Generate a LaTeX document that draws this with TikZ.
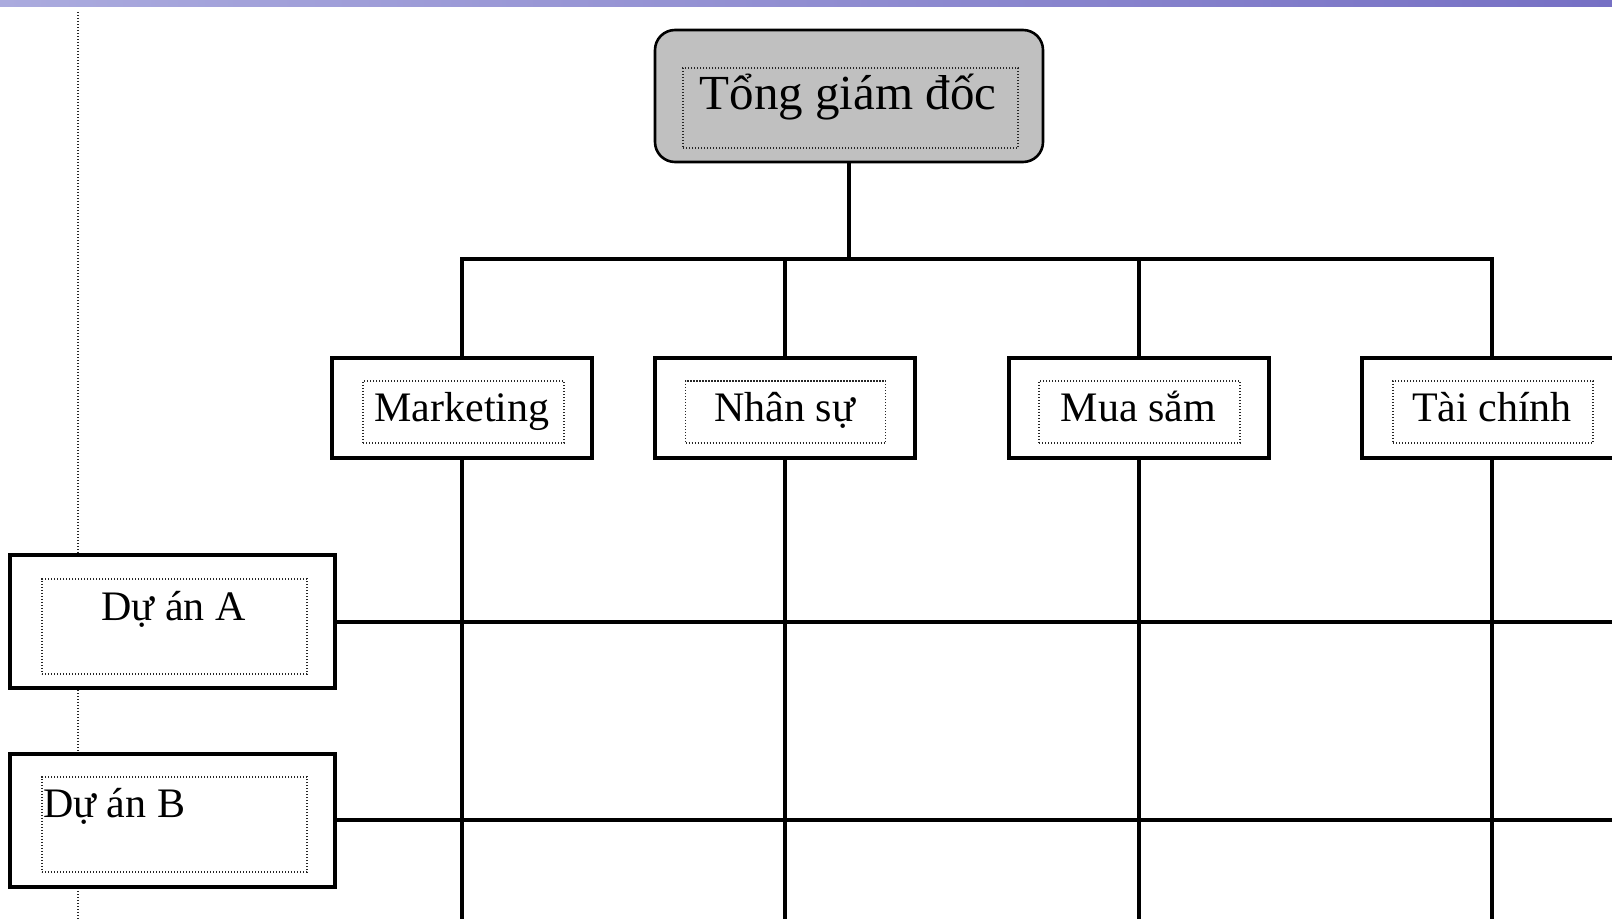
\documentclass[tikz,border=0pt]{standalone}
\usepackage{fontspec}
\setmainfont{Liberation Serif}
\definecolor{barlight}{HTML}{ABABDE}
\definecolor{bardark}{HTML}{7670C4}
\definecolor{headgray}{HTML}{C0C0C0}
\begin{document}
\begin{tikzpicture}[x=50pt,y=-50pt,
  unitbox/.style={draw,line width=2pt,fill=white,inner sep=0pt,minimum width=130pt,minimum height=50pt},
  projbox/.style={draw,line width=2pt,fill=white,inner sep=0pt,minimum width=162.5pt,minimum height=66.5pt},
  dotbox/.style={draw=black!85,line width=0.75pt,dash pattern=on 0.6pt off 0.9pt,inner sep=0pt},
  boxtext/.style={inner sep=0pt,anchor=base,font=\fontsize{21}{25}\selectfont},
  link/.style={line width=2pt}]
\useasboundingbox (0,0) rectangle (16.12,9.19);
\clip (0,0) rectangle (16.12,9.19);
\shade[left color=barlight,right color=bardark] (0,0) rectangle (16.12,0.07);
\coordinate (redge) at (16.12,0);
\coordinate (bedge) at (0,9.19);
\coordinate (gtop) at (0.78,0.12);
\draw[black!85,line width=0.75pt,dash pattern=on 0.6pt off 0.9pt] (gtop) -- (gtop |- bedge);
\node[draw,line width=1.3pt,fill=headgray,rounded corners=10pt,minimum width=194pt,minimum height=66pt] (tgd) at (8.49,0.96) {};
\node[dotbox,minimum width=167.5pt,minimum height=40pt] (tgdin) at (8.505,1.08) {};
\node[boxtext,font=\fontsize{24.5}{28}\selectfont] (tgdtext) at (8.48,1.10) {Tổng giám đốc};
\node[unitbox] (mkt) at (4.62,4.08) {};
\node[dotbox,minimum width=100.5pt,minimum height=31pt] (mktin) at (4.635,4.12) {};
\node[boxtext] (mkttext) at (4.62,4.22) {Marketing};
\node[unitbox] (ns) at (7.845,4.08) {};
\node[dotbox,minimum width=100pt,minimum height=31pt] (nsin) at (7.855,4.12) {};
\node[boxtext] (nstext) at (7.845,4.22) {Nhân sự};
\node[unitbox] (mua) at (11.385,4.08) {};
\node[dotbox,minimum width=100.5pt,minimum height=31pt] (muain) at (11.395,4.12) {};
\node[boxtext] (muatext) at (11.385,4.22) {Mua sắm};
\node[unitbox] (tc) at (14.92,4.08) {};
\node[dotbox,minimum width=100pt,minimum height=31pt] (tcin) at (14.93,4.12) {};
\node[boxtext] (tctext) at (14.92,4.22) {Tài chính};
\node[projbox] (pa) at (1.725,6.215) {};
\node[dotbox,minimum width=132.5pt,minimum height=47.5pt] (pain) at (1.745,6.265) {};
\node[boxtext] (patext) at (1.735,6.20) {Dự án A};
\node[projbox] (pb) at (1.725,8.20) {};
\node[dotbox,minimum width=132.5pt,minimum height=47.5pt] (pbin) at (1.745,8.245) {};
\node[boxtext,anchor=base west] (pbtext) at (0.43,8.17) {Dự án B};
\coordinate (bus) at (8.49,2.59);
\draw[link] (tgd.south) -- (bus);
\draw[link] (mkt.north) |- (bus) -| (tc.north);
\draw[link] (ns.north) -- (ns.north |- bus);
\draw[link] (mua.north) -- (mua.north |- bus);
\draw[link] (mkt.south) -- (mkt.south |- bedge);
\draw[link] (ns.south) -- (ns.south |- bedge);
\draw[link] (mua.south) -- (mua.south |- bedge);
\draw[link] (tc.south) -- (tc.south |- bedge);
\draw[link] (pa.east) -- (pa.east -| redge);
\draw[link] (pb.east) -- (pb.east -| redge);
\end{tikzpicture}
\end{document}
